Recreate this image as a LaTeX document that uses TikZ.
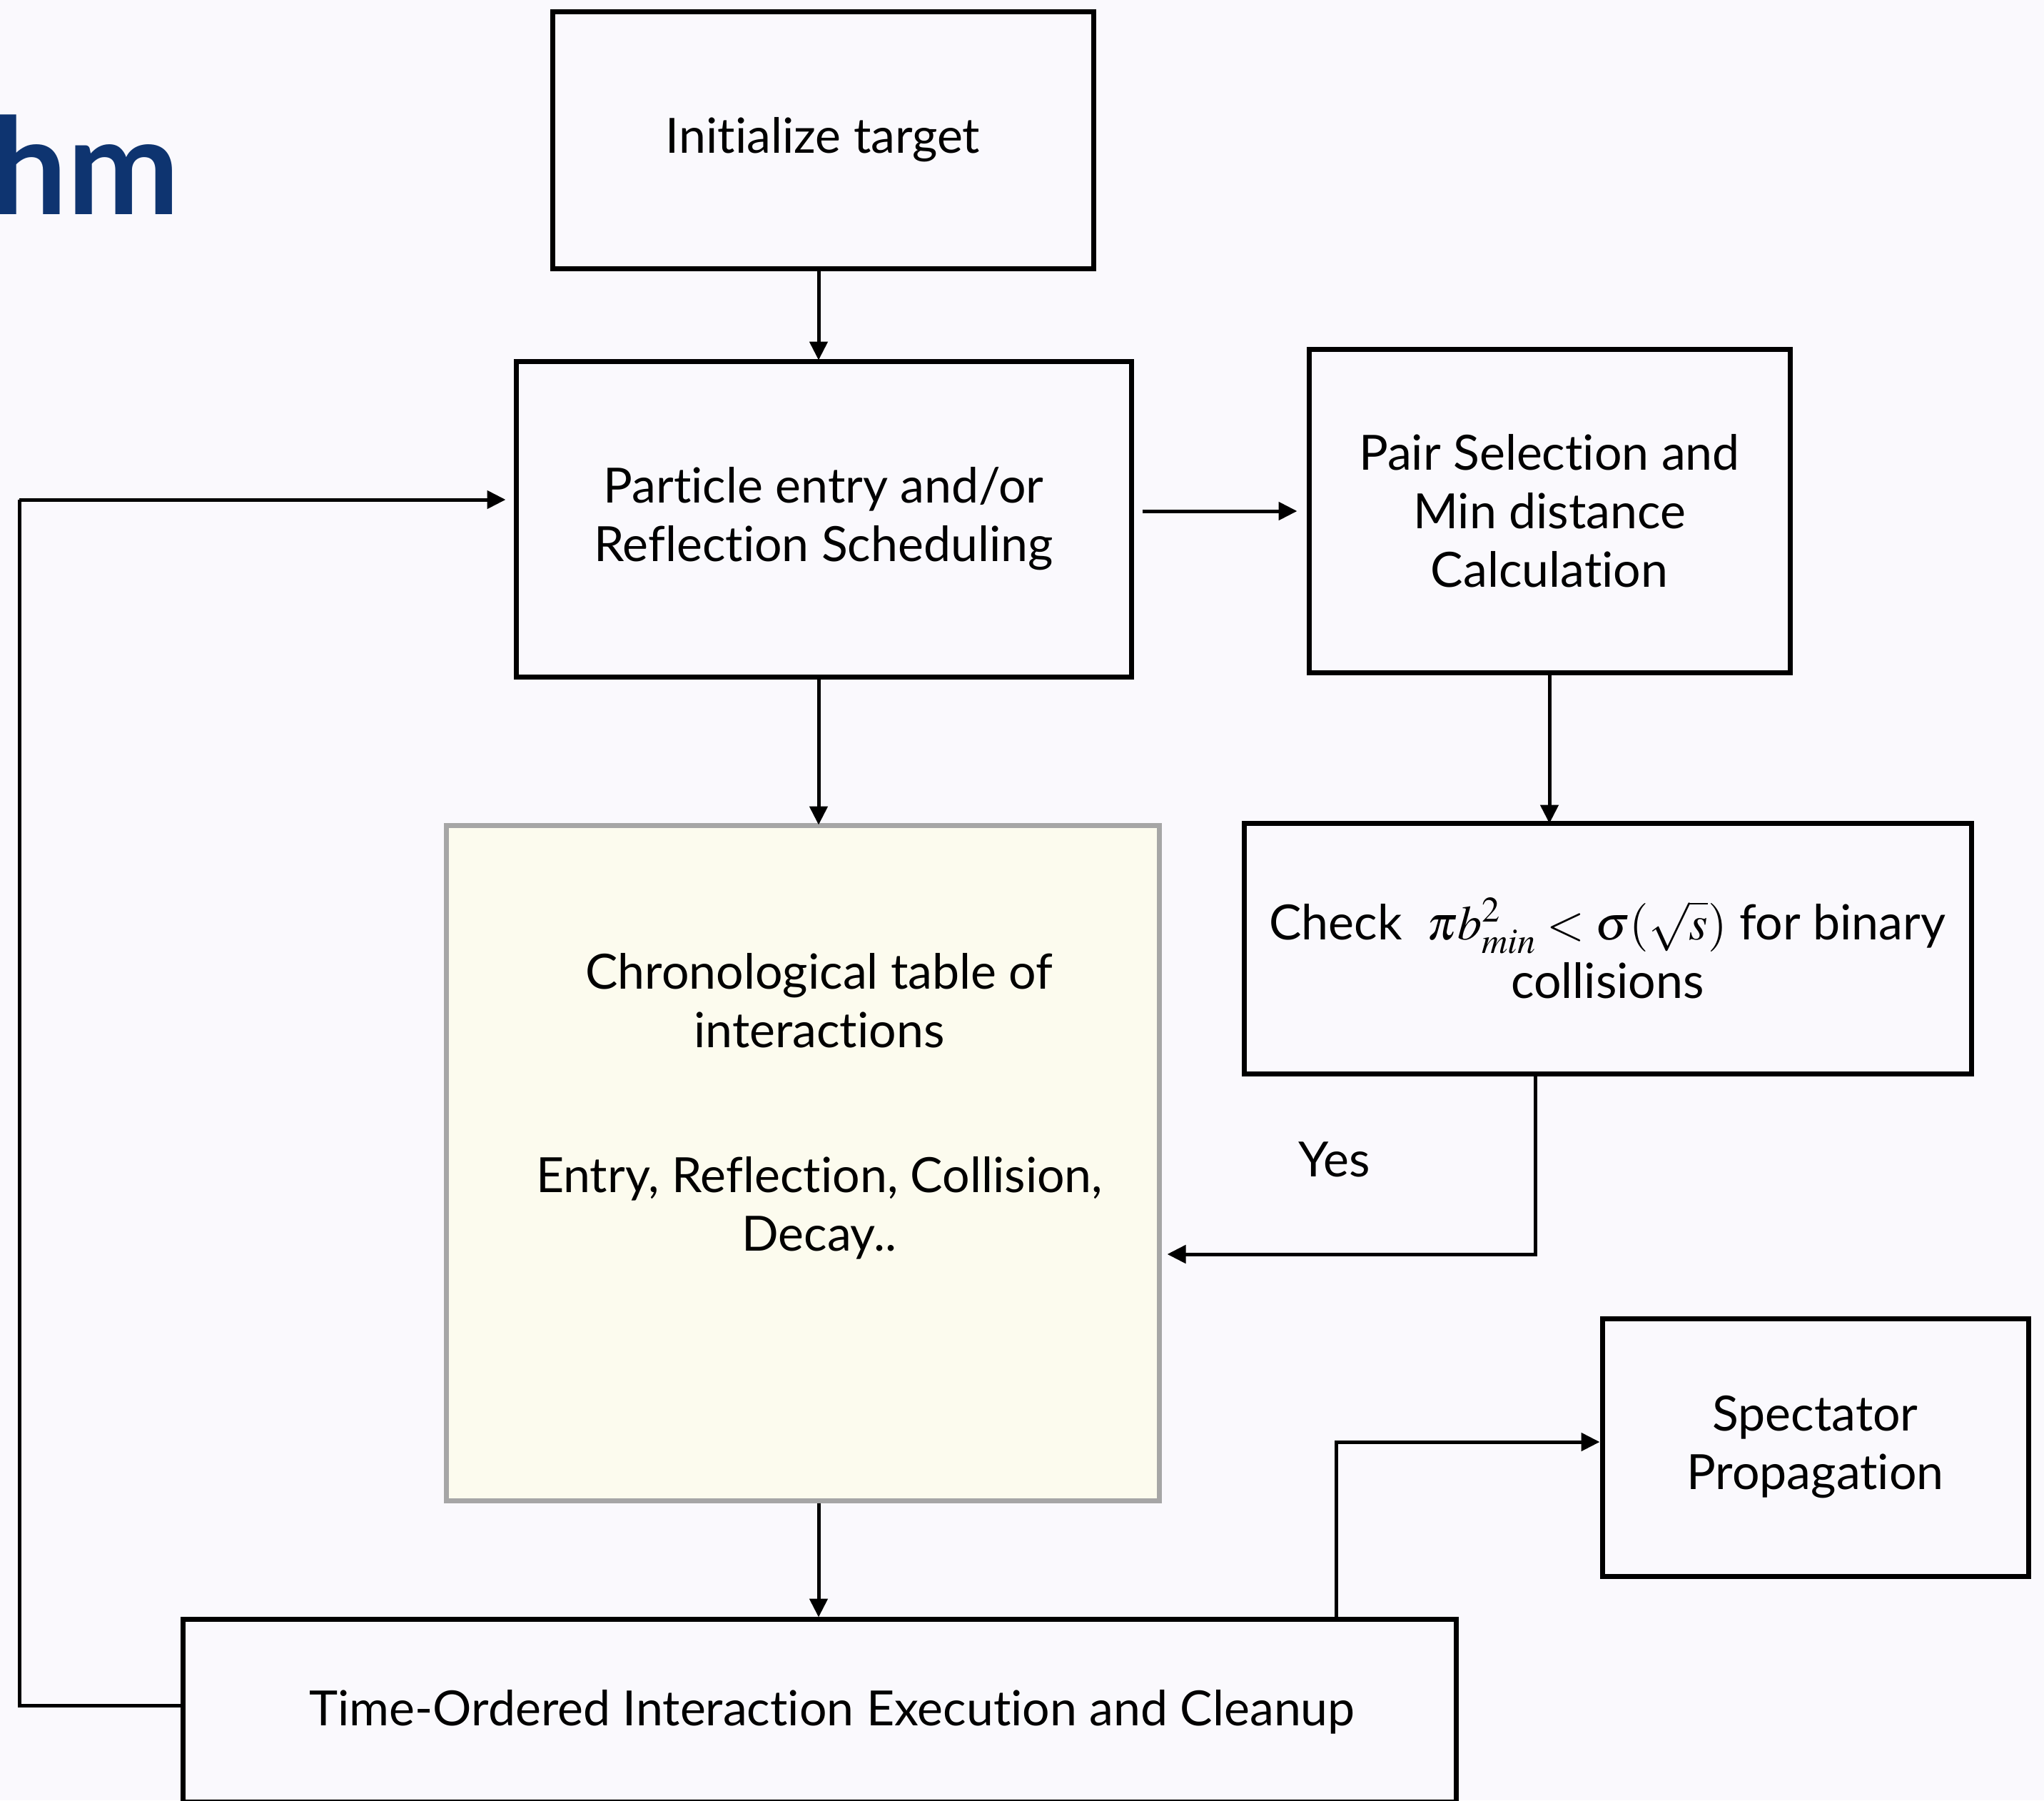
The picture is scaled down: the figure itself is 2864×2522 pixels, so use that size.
\documentclass[tikz,border=0pt]{standalone}
\usepackage{mathptmx}
\usepackage[no-math]{fontspec}
\setmainfont{Lato}[Ligatures={NoCommon,NoRare}]
\usetikzlibrary{arrows.meta,calc}
\definecolor{pagebg}{RGB}{250,249,253}
\definecolor{tablefill}{RGB}{252,251,238}
\definecolor{tableedge}{RGB}{166,166,166}
\definecolor{titleblue}{RGB}{14,52,112}
\begin{document}
\begin{tikzpicture}[x=1pt,y=-1pt,
  box/.style={draw=black,line width=7pt,inner sep=0pt,align=center,
    font=\fontsize{68}{82}\selectfont},
  label/.style={inner sep=0pt,align=center,font=\fontsize{68}{82}\selectfont},
  arr/.style={line width=5pt,-{Triangle[length=26pt,width=25pt]}},
  link/.style={line width=5pt}]

% page
\fill[pagebg] (0,0) rectangle (2864,2522);
\useasboundingbox (0,0) rectangle (2864,2522);

% title fragment
\node[anchor=base west,inner sep=0pt,text=titleblue,
      font=\bfseries\fontsize{188}{188}\selectfont] (title) at (-12,300) {hm};

% process boxes
\node[box,minimum width=758pt,minimum height=360pt] (init) at (1153,196)
  {\raisebox{-4pt}{Initialize target}};
\node[box,minimum width=862pt,minimum height=442pt] (part) at (1154,727)
  {Particle entry and/or\\Reflection Scheduling};
\node[box,minimum width=674pt,minimum height=453pt] (pair) at (2171,715.5)
  {Pair Selection and\\Min distance\\Calculation};
\node[box,minimum width=1019pt,minimum height=351pt] (check) at (2252.5,1328.5)
  {Check \ $\pi b^2_{min} < \sigma(\sqrt{s})$ for binary\\collisions};
\node[draw=tableedge,fill=tablefill,line width=7pt,inner sep=0pt,
      minimum width=999pt,minimum height=946pt] (table) at (1124.5,1629) {};
\node[label] (tabletext) at (1148,1550)
  {Chronological table of\\interactions\\[121pt]Entry, Reflection, Collision,\\Decay..};
\node[box,minimum width=597pt,minimum height=361pt] (spect) at (2543.5,2027.5)
  {Spectator\\Propagation};
\node[box,minimum width=1784pt,minimum height=256pt] (exec) at (1148,2396) {};
\node[label] (exectext) at (1166,2398)
  {Time-Ordered Interaction Execution and Cleanup};
\node[label,anchor=base] (yes) at (1870,1648) {Yes};

% connector routing points
\coordinate (xmain) at (1147,0);
\coordinate (xcheck) at (2151,0);
\coordinate (xspect) at (1872,0);
\coordinate (ypair) at (0,716);
\coordinate (yyes) at (0,1757);
\coordinate (yspect) at (0,2020);
\coordinate (yloop) at (0,2389);
\coordinate (yentry) at (0,700);
\coordinate (xloop) at (27,0);

% connectors
\draw[arr] (init.south -| xmain) -- ([yshift=-2pt]part.north -| xmain);
\draw[arr] (part.south -| xmain) -- ([yshift=-3pt]table.north -| xmain);
\draw[arr] (table.south -| xmain) -- ([yshift=-1pt]exec.north -| xmain);
\draw[arr,shorten <=12pt,shorten >=13pt] (part.east |- ypair) -- (pair.west |- ypair);
\draw[arr] (pair.south) -- ([yshift=-4pt]pair.south |- check.north);
\draw[arr,shorten >=8pt] (check.south -| xcheck) |- (table.east |- yyes);
\draw[arr] (exec.north -| xspect) |- (spect.west |- yspect);
\draw[link] (exec.west |- yloop) -| (xloop |- yentry);
\draw[arr,shorten >=11pt] (xloop |- yentry) -- (part.west |- yentry);
\end{tikzpicture}
\end{document}
